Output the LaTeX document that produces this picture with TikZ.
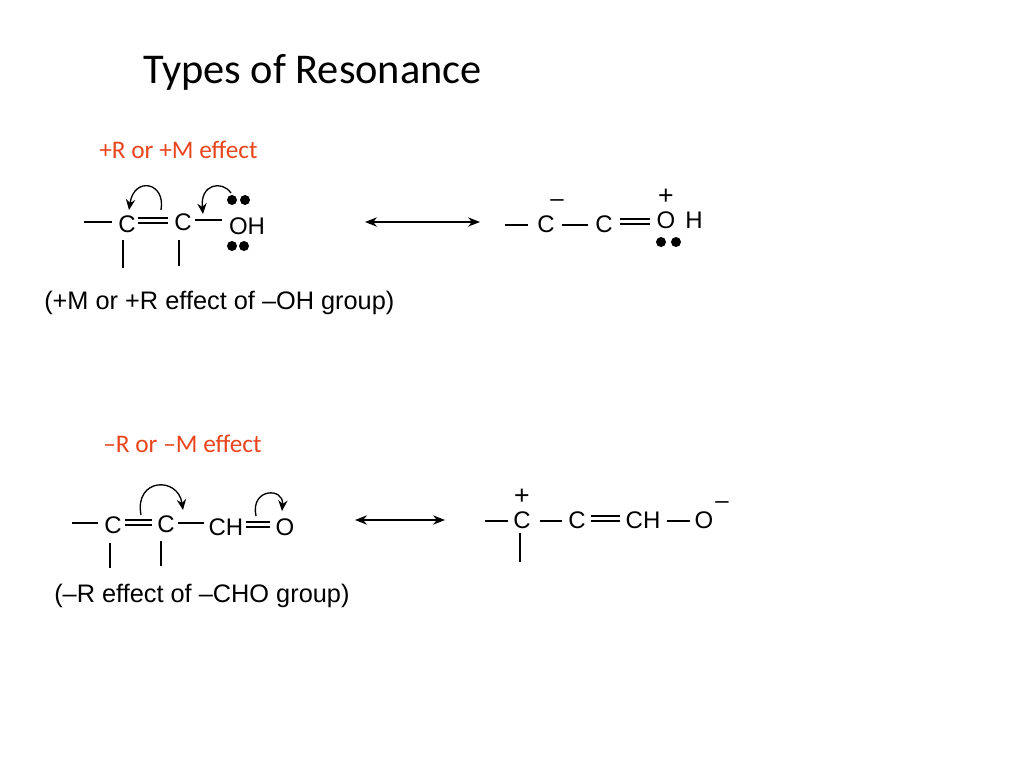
\documentclass[tikz,border=0pt]{standalone}
\usepackage{fontspec}
\setmainfont{Liberation Sans}
\newfontfamily\slidefont{Carlito}
\usetikzlibrary{arrows.meta,positioning}
\definecolor{effred}{HTML}{E8451E}
\tikzset{atom/.style={inner sep=0pt,font=\fontsize{18}{18}\selectfont},
  lbl/.style={inner sep=0pt,anchor=west,effred,font=\slidefont\fontsize{19}{19}\selectfont},
  note/.style={inner sep=0pt,anchor=west,font=\fontsize{19}{19}\selectfont},
  bond/.style={line width=0.9pt},
  dot/.style={circle,fill=black,inner sep=0pt,minimum size=7.5pt},
  push/.style={line width=1pt,-{Stealth[length=8pt,width=7pt]}},
  res/.style={line width=1.1pt,{Stealth[length=9pt,width=7pt]}-{Stealth[length=9pt,width=7pt]}}}
\begin{document}
\begin{tikzpicture}[x=0.75pt,y=-0.75pt]
    \useasboundingbox (0,0) rectangle (1024,768);
    \node[inner sep=0pt,anchor=west,font=\slidefont\fontsize{31.8}{32}\selectfont] (title) at (143,72) {Types of Resonance};

    % +R effect
    \node[lbl] (plusR) at (99,150) {+R or +M effect};
    \node[atom] (a1) at (127,224) {C};
    \node[atom] (a2) at (183,222) {C};
    \node[atom] (oh) at (247,226) {OH};
    \draw[bond] (84,222) -- (112,222);
    \draw[bond] (138,218) -- (168,218);
    \draw[bond] (138,223) -- (168,223);
    \draw[bond] (195,220) -- (222,220);
    \draw[bond] (123,240) -- (123,268);
    \draw[bond] (179,240) -- (179,266);
    \node[dot] at (232,200) {}; \node[dot] at (245,200) {};
    \node[dot] at (232,246) {}; \node[dot] at (244,246) {};
    \draw[push] (161,210) .. controls (166,182) and (134,176) .. (129,210);
    \draw[push] (231,193) .. controls (222,180) and (200,184) .. (203,214);
    \draw[res] (365,222) -- (480,222);
    \node[atom] (b1) at (546,224) {C};
    \node[atom] (b2) at (604,224) {C};
    \node[atom] (bo) at (666,220) {O};
    \node[atom] (bh) at (694,220) {H};
    \draw[bond] (505,225) -- (528,225);
    \draw[bond] (562,225) -- (588,225);
    \draw[bond] (620,219) -- (650,219);
    \draw[bond] (620,224) -- (650,224);
    \node[atom] at (557,203) {–};
    \node[atom,font=\fontsize{20}{20}\selectfont] at (666,197) {+};
    \node[dot] at (661,242) {}; \node[dot] at (676,242) {};
    \node[note] (cap1) at (44,303) {(+M or +R effect of –OH group)};

    % -R effect
    \node[lbl] (minusR) at (103,444) {–R or –M effect};
    \node[atom] (c1) at (113,525) {C};
    \node[atom] (c2) at (166,524) {C};
    \node[atom] (ch) at (226,527) {CH};
    \node[atom] (co) at (285,527) {O};
    \draw[bond] (72,523) -- (98,523);
    \draw[bond] (125,520) -- (152,520);
    \draw[bond] (125,525) -- (152,525);
    \draw[bond] (178,523) -- (204,523);
    \draw[bond] (246,522) -- (270,522);
    \draw[bond] (246,527) -- (270,527);
    \draw[bond] (110,543) -- (110,568);
    \draw[bond] (161,541) -- (161,566);
    \draw[push] (141,515) .. controls (134,478) and (178,476) .. (183,510);
    \draw[push] (256,516) .. controls (250,488) and (284,487) .. (282,511);
    \draw[res] (355,520) -- (445,520);
    \node[atom] (d1) at (522,520) {C};
    \node[atom] (d2) at (577,520) {C};
    \node[atom] (dch) at (643,520) {CH};
    \node[atom] (do) at (704,520) {O};
    \node[atom,font=\fontsize{20}{20}\selectfont] at (522,497) {+};
    \node[atom] at (722,505) {–};
    \draw[bond] (485,521) -- (508,521);
    \draw[bond] (540,521) -- (562,521);
    \draw[bond] (591,516) -- (620,516);
    \draw[bond] (591,521) -- (620,521);
    \draw[bond] (667,521) -- (690,521);
    \draw[bond] (520,533) -- (520,562);
    \node[note] (cap2) at (54,596) {(–R effect of –CHO group)};
\end{tikzpicture}
\end{document}
